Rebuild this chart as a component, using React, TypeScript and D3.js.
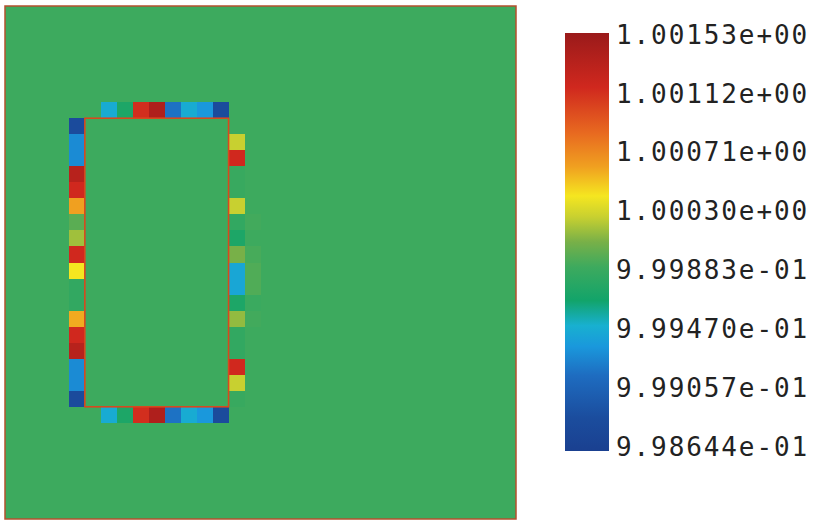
import React, { useEffect, useRef } from 'react';
import * as d3 from 'd3';

// colorbar limits + tick labels
const vMin = 0.998644;
const vMax = 1.00153;
const tickValues = [1.00153, 1.00112, 1.00071, 1.0003, 0.999883, 0.99947, 0.999057, 0.998644];
const tickLabels = ['1.00153e+00', '1.00112e+00', '1.00071e+00', '1.00030e+00', '9.99883e-01', '9.99470e-01', '9.99057e-01', '9.98644e-01'];

// colormap stops (fraction of range) and colours
const cmapStops = [0, 0.08, 0.18, 0.25, 0.3, 0.36, 0.44, 0.5, 0.56, 0.61, 0.68, 0.76, 0.87, 1];
const cmapColors = ['#1a4090', '#1b4d9e', '#1e6cc0', '#1a98dc', '#18b0d0', '#12a46a', '#3daa5e', '#78b048', '#c8d030', '#f5e620', '#f0a020', '#e86a20', '#d0281e', '#9a1a1a'];

const gridSize = 32;
const background = 0.999913;

// top / bottom rows, columns 6..13
const topRow = [0.999481, 0.999741, 1.001126, 1.001386, 0.999193, 0.999481, 0.999366, 0.998846];
const bottomRow = [0.999481, 0.999741, 1.001126, 1.001386, 0.999193, 0.999481, 0.999366, 0.998846];
// left column (col 4) and right column (col 14), rows 7..24
const leftCol = [0.998846, 0.999308, 0.999308, 1.001328, 1.001155, 1.000606, 0.999999, 1.000173, 1.001155, 1.000404, 0.999856, 0.999856, 1.000577, 1.001155, 1.001328, 0.999308, 0.999308, 0.998846];
const rightCol = [0.999913, 1.000260, 1.001155, 0.999885, 0.999885, 1.000260, 0.999856, 0.999741, 1.000087, 0.999452, 0.999452, 0.999741, 1.000144, 0.999856, 0.999856, 1.001155, 1.000260, 0.999885];
// faint column beside the right edge (col 15), rows 13..21
const outerRight = [0.999928, 0.999913, 0.999942, 0.999971, 0.999971, 0.999899, 0.999928, 0.999913, 0.999913];

const App = () => {
  const ref = useRef<SVGSVGElement>(null);

  useEffect(() => {
    const svg = d3.select(ref.current);
    svg.selectAll('*').remove();

    // build the grid
    const cells: { c: number; r: number; v: number }[] = [];
    const grid: number[][] = [];
    for (let r = 0; r < gridSize; r++) {
      grid.push([]);
      for (let c = 0; c < gridSize; c++) grid[r].push(background);
    }
    topRow.forEach((v, i) => (grid[6][6 + i] = v));
    bottomRow.forEach((v, i) => (grid[25][6 + i] = v));
    leftCol.forEach((v, i) => (grid[7 + i][4] = v));
    rightCol.forEach((v, i) => (grid[7 + i][14] = v));
    outerRight.forEach((v, i) => (grid[13 + i][15] = v));
    grid.forEach((row, r) => row.forEach((v, c) => cells.push({ c, r, v })));

    const idx = d3.range(gridSize);
    const x = d3.scaleBand<number>().domain(idx).range([5, 516]);
    const y = d3.scaleBand<number>().domain(idx).range([6, 519]);

    const norm = d3.scaleLinear().domain([vMin, vMax]).range([0, 1]).clamp(true);
    const cmap = d3.scaleLinear<string>().domain(cmapStops).range(cmapColors).interpolate(d3.interpolateRgb);
    const color = (v: number) => cmap(norm(v));

    svg.append('rect').attr('x', 0).attr('y', 0).attr('width', 818).attr('height', 520).attr('fill', '#fff');

    // background fill first so no seams show between cells
    svg.append('rect')
      .attr('x', 5).attr('y', 6).attr('width', 511).attr('height', 513)
      .attr('fill', color(background));

    svg.append('g')
      .attr('shape-rendering', 'crispEdges')
      .selectAll('rect')
      .data(cells.filter(d => d.v !== background))
      .enter()
      .append('rect')
      .attr('x', d => x(d.c)!)
      .attr('y', d => y(d.r)!)
      .attr('width', x.bandwidth())
      .attr('height', y.bandwidth())
      .attr('fill', d => color(d.v));

    // inner rectangle outline
    svg.append('rect')
      .attr('x', x(5)!)
      .attr('y', y(7)!)
      .attr('width', x(14)! - x(5)!)
      .attr('height', y(25)! - y(7)!)
      .attr('fill', 'none')
      .attr('stroke', '#d8481e')
      .attr('stroke-width', 1.6);

    // plot border
    svg.append('rect')
      .attr('x', 5)
      .attr('y', 6)
      .attr('width', 511)
      .attr('height', 513)
      .attr('fill', 'none')
      .attr('stroke', '#b4502e')
      .attr('stroke-width', 1.5);

    // colorbar
    const cbY = d3.scaleLinear().domain([vMin, vMax]).range([451, 33]);
    const defs = svg.append('defs');
    const grad = defs.append('linearGradient').attr('id', 'cb').attr('x1', 0).attr('y1', 1).attr('x2', 0).attr('y2', 0);
    cmapStops.forEach((s, i) => grad.append('stop').attr('offset', s).attr('stop-color', cmapColors[i]));
    svg.append('rect')
      .attr('x', 565)
      .attr('y', cbY(vMax))
      .attr('width', 44)
      .attr('height', cbY(vMin) - cbY(vMax))
      .attr('fill', 'url(#cb)');

    const labelY = d3.scaleLinear().domain([vMin, vMax]).range([447, 35]);
    svg.append('g')
      .selectAll('text')
      .data(tickValues)
      .enter()
      .append('text')
      .attr('x', 616)
      .attr('y', d => labelY(d))
      .attr('dy', '0.36em')
      .attr('font-family', '"DejaVu Sans Mono", monospace')
      .attr('font-size', 26)
      .attr('letter-spacing', 1.9)
      .attr('fill', '#222')
      .text((d, i) => tickLabels[i]);
  }, []);

  return (
    <svg
      ref={ref}
      width={818}
      height={520}
      style={{ position: 'absolute', left: 0, top: 0 }}
    ></svg>
  );
};

export default App;
